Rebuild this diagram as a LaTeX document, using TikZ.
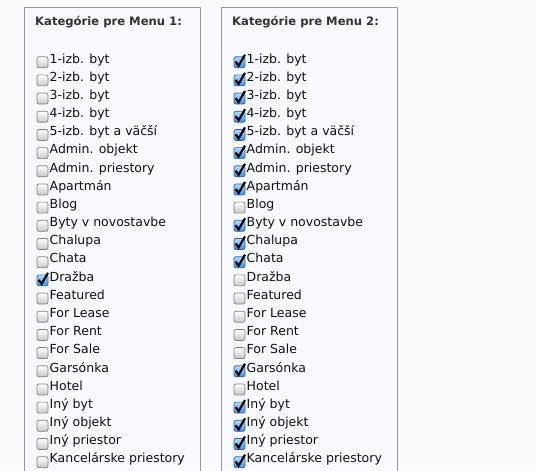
\documentclass[tikz,border=0pt]{standalone}
\usepackage{fontspec}
\setmainfont{DejaVu Sans}
\usetikzlibrary{shadings}
\definecolor{pagebg}{HTML}{F9F9F9}
\definecolor{boxbg}{HTML}{F8F8FF}
\definecolor{boxborder}{HTML}{999999}
\definecolor{txt}{HTML}{111111}
\definecolor{ttl}{HTML}{333333}
\definecolor{cbtop}{HTML}{B4DAFF}
\definecolor{cbbot}{HTML}{3C8EE8}
\definecolor{cbedge}{HTML}{3A5F8F}
\tikzset{
  panel/.style={draw=boxborder, fill=boxbg, line width=1pt, anchor=north west,
    minimum width=176pt, minimum height=500pt, inner sep=0pt},
  ttlnode/.style={anchor=base west, inner sep=0pt, text=ttl,
    font=\fontsize{11.6}{14}\selectfont\bfseries},
  lbl/.style={anchor=base west, inner sep=0pt, text=txt,
    font=\fontsize{12.5}{15}\selectfont},
  cbox/.style={rounded corners=2pt, minimum width=11pt, minimum height=11pt,
    inner sep=0pt, line width=0.7pt},
  cb0/.style={cbox, draw=black!50, top color=white, bottom color=black!22},
  cb1/.style={cbox, draw=cbedge, top color=cbtop, bottom color=cbbot},
  checkstroke/.style={draw=black, line width=2.1pt, line join=miter, line cap=butt}
}
\begin{document}
\begin{tikzpicture}[x=1pt,y=-1pt]
\useasboundingbox (0,0) rectangle (536,471);
\fill[pagebg] (0,0) rectangle (536,471);
\begin{scope}
\clip (0,0) rectangle (536,471);
\node[panel] (p1) at (23.5,6.5) {};
\node[panel] (p2) at (220.5,6.5) {};
\node[ttlnode] (h1) at (35,25.7) {Kategórie pre Menu 1:};
\node[ttlnode] (h2) at (232,25.7) {Kategórie pre Menu 2:};
\foreach \t/\a/\b [count=\i from 0] in {
  1-izb. byt/0/1, 2-izb. byt/0/1, 3-izb. byt/0/1, 4-izb. byt/0/1,
  5-izb. byt a väčší/0/1, Admin. objekt/0/1, Admin. priestory/0/1,
  Apartmán/0/1, Blog/0/0, Byty v novostavbe/0/1, Chalupa/0/1, Chata/0/1,
  Dražba/1/0, Featured/0/0, For Lease/0/0, For Rent/0/0, For Sale/0/0,
  Garsónka/0/1, Hotel/0/0, Iný byt/0/1, Iný objekt/0/1, Iný priestor/0/1,
  Kancelárske priestory/0/1}{
  \pgfmathsetmacro\yb{63+\i*18.18}
  \pgfmathsetmacro\yc{\yb-0.8}
  \node[cb\a] (ca\i) at (42.5,\yc) {};
  \node[lbl] (ta\i) at (49.5,\yb) {\t};
  \node[cb\b] (cb\i) at (239.5,\yc) {};
  \node[lbl] (tb\i) at (246.5,\yb) {\t};
  \ifnum\a=1
    \draw[checkstroke] (38.6,\yc-0.5) -- (41.6,\yc+3.6) -- (48,\yc-7.5);
  \fi
  \ifnum\b=1
    \draw[checkstroke] (235.6,\yc-0.5) -- (238.6,\yc+3.6) -- (245,\yc-7.5);
  \fi
}
\end{scope}
\end{tikzpicture}
\end{document}
